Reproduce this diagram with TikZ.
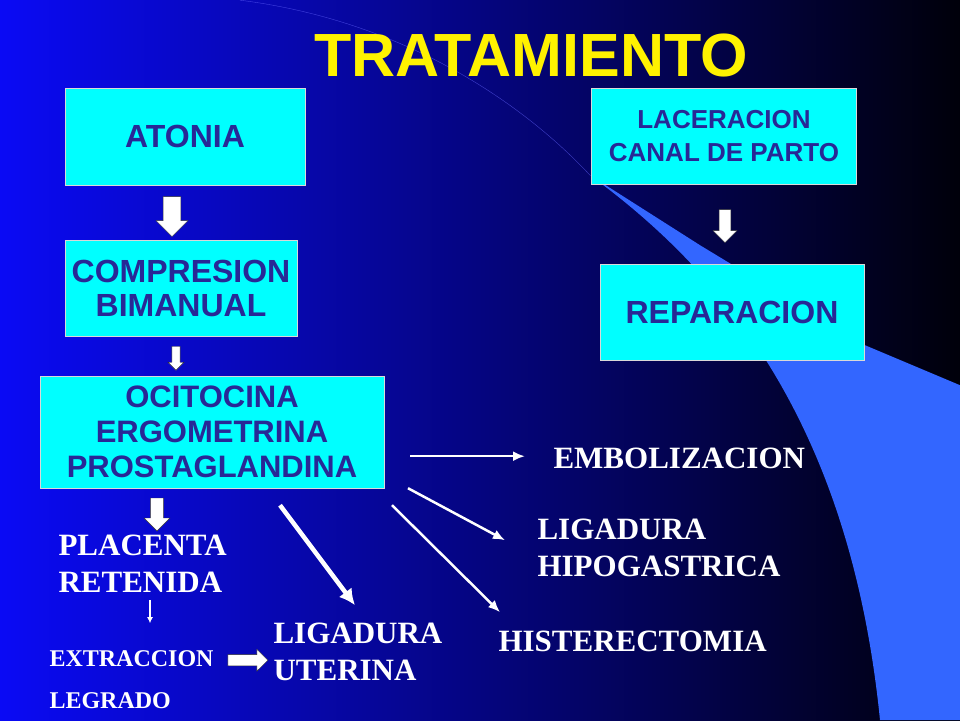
\documentclass[tikz,border=0pt]{standalone}
\usepackage{fontspec}
\setmainfont{Liberation Serif}
\setsansfont{Liberation Sans}
\usetikzlibrary{shapes.arrows,arrows.meta}
\definecolor{boxcyan}{RGB}{0,255,255}
\definecolor{boxtext}{RGB}{40,40,150}
\definecolor{lightblue}{RGB}{51,102,255}
\tikzset{
  box/.style={draw=white!70!gray, fill=boxcyan, text=boxtext, font=\sffamily\bfseries\fontsize{32}{34}\selectfont, align=center, inner sep=0pt},
  blockarrow/.style={single arrow, draw=black!80, fill=white, shape border rotate=270, single arrow head extend=5pt, inner sep=5pt},
  label/.style={text=white, font=\bfseries\fontsize{31}{37}\selectfont, align=left, anchor=west},
  whitearrow/.style={draw=white, line width=2.5pt, -{Latex[length=12pt,width=10pt]}}
}
\begin{document}
\begin{tikzpicture}[x=1pt,y=-1pt]
% background
\shade[left color={rgb,255:red,10;green,10;blue,245}, middle color={rgb,255:red,0;green,0;blue,120}, right color={rgb,255:red,0;green,0;blue,10}] (0,0) rectangle (960,720);
\fill[lightblue] (590,175) .. controls (720,270) and (850,420) .. (880,720) -- (960,720) -- (960,385) -- (865,345) -- (700,245) -- cycle;
\draw[blue!60!white, opacity=0.6] (240,0) .. controls (400,20) and (520,100) .. (590,175);
\useasboundingbox (0,0) rectangle (960,720);

\node[text=yellow, font=\sffamily\bfseries\fontsize{61}{70}\selectfont] (title) at (531,55) {TRATAMIENTO};

% boxes
\node[box, minimum width=240, minimum height=97] (atonia) at (185,136) {ATONIA};
\node[box, minimum width=265, minimum height=96, font=\sffamily\bfseries\fontsize{26}{33}\selectfont] (laceracion) at (724,136) {LACERACION\\CANAL DE PARTO};
\node[box, minimum width=232, minimum height=96] (compresion) at (181,288) {COMPRESION\\BIMANUAL};
\node[box, minimum width=264, minimum height=96] (reparacion) at (732,312) {REPARACION};
\node[box, minimum width=344, minimum height=112, font=\sffamily\bfseries\fontsize{31}{35}\selectfont] (ocitocina) at (212,432) {OCITOCINA\\ERGOMETRINA\\PROSTAGLANDINA};

% block arrows
\node[blockarrow, minimum height=40, minimum width=32, inner sep=6pt] (a1) at (172,212) {};
\node[blockarrow, minimum height=33, minimum width=24, inner sep=4.5pt] (a2) at (725,223) {};
\node[blockarrow, minimum height=24, minimum width=16, inner sep=3pt, single arrow head extend=3pt] (a3) at (176,356) {};
\node[blockarrow, minimum height=33, minimum width=26, inner sep=5pt] (a4) at (157,511) {};
\node[single arrow, draw=black!80, fill=white, minimum height=40, minimum width=22, inner sep=4pt, single arrow head extend=4pt] (a5) at (245,660) {};

% labels
\node[label] (embol) at (550,458) {EMBOLIZACION};
\node[label] (hipo) at (534,548) {LIGADURA\\HIPOGASTRICA};
\node[label] (placenta) at (55,564) {PLACENTA\\RETENIDA};
\node[label] (uterina) at (270,652) {LIGADURA\\UTERINA};
\node[label] (histe) at (495,641) {HISTERECTOMIA};
\node[label, font=\bfseries\fontsize{24}{42}\selectfont] (extra) at (46,679) {EXTRACCION\\LEGRADO};

% connectors
\coordinate (e0) at (410,456);
\coordinate (h0) at (408,488);
\coordinate (s0) at (392,505);
\coordinate (u0) at (280,505);
\coordinate (p0) at (150,600);
\draw[whitearrow] (e0) -- (525,456);
\draw[whitearrow] (h0) -- (505,540);
\draw[whitearrow] (s0) -- (500,612);
\draw[whitearrow, line width=4.5pt, -{Latex[length=16pt,width=16pt]}] (u0) -- (355,605);
\draw[draw=white, line width=1.2pt, -{Latex[length=6pt,width=6pt]}] (p0) -- (150,623);
\end{tikzpicture}
\end{document}
